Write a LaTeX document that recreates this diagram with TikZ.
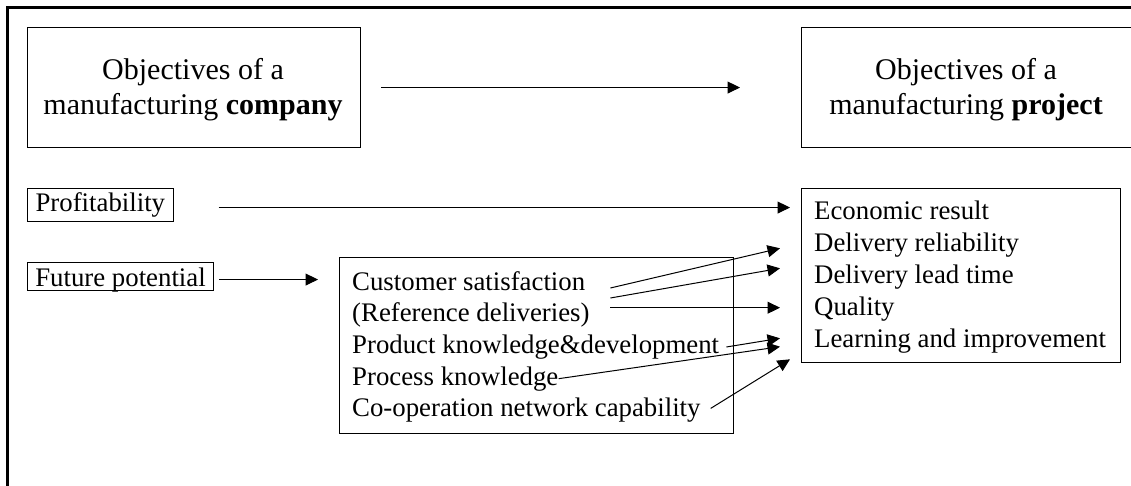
\documentclass[tikz,border=0pt]{standalone}
\usepackage{fontspec}
\setmainfont{Liberation Serif}
\usetikzlibrary{arrows.meta,calc}
\begin{document}
\begin{tikzpicture}[x=1pt,y=-1pt,
  outerframe/.style={line width=3pt},
  headbox/.style={draw, line width=1.1pt, anchor=north west, inner sep=0pt, minimum height=120pt},
  headtext/.style={anchor=base, inner sep=0pt, font=\fontsize{30}{35}\selectfont},
  listbox/.style={draw, line width=1.1pt, anchor=north west, inner sep=0pt},
  itemtext/.style={anchor=base west, inner sep=0pt, font=\fontsize{26.8}{32}\selectfont},
  labelbox/.style={draw, line width=1.1pt, anchor=north west, inner ysep=0pt, font=\fontsize{26.8}{32}\selectfont},
  arr/.style={-{Triangle[length=12.5pt,width=12pt]}, line width=1pt}]
\useasboundingbox (0,0) rectangle (1131,486);
\clip (0,0) rectangle (1131,486);
\draw[outerframe] (7,490) -- (7,8) -- (1135,8);

% headings
\node[headbox, minimum width=333pt] (cbox) at (27,27) {};
\node[headbox, minimum width=333pt] (pbox) at (801,27) {};
\node[headtext] (c1) at (193,80) {Objectives of a};
\node[headtext] (c2) at (193,115) {manufacturing \textbf{company}};
\node[headtext] (p1) at (966,80) {Objectives of a};
\node[headtext] (p2) at (966,115) {manufacturing \textbf{project}};
\draw[arr] ($(cbox.east)+(20,0)$) -- ($(pbox.west)+(-61,0)$);

% left labels
\node[labelbox, inner xsep=8pt, text height=23pt, text depth=10pt] (prof) at (27,188) {Profitability};
\node[labelbox, inner xsep=7.75pt, text height=24pt, text depth=4pt] (fut) at (27,262) {Future potential};

% middle box
\node[listbox, minimum width=394pt, minimum height=176pt] (mid) at (339,257) {};
\node[itemtext] (m1) at (352,290) {Customer satisfaction};
\node[itemtext] (m2) at (352,321.7) {(Reference deliveries)};
\node[itemtext] (m3) at (352,353.4) {Product knowledge\&development};
\node[itemtext] (m4) at (352,385.1) {Process knowledge};
\node[itemtext] (m5) at (352,416.8) {Co-operation network capability};

% result box
\node[listbox, minimum width=319pt, minimum height=174pt] (res) at (801,188) {};
\node[itemtext] (r1) at (814,219) {Economic result};
\node[itemtext] (r2) at (814,251.2) {Delivery reliability};
\node[itemtext] (r3) at (814,283.4) {Delivery lead time};
\node[itemtext] (r4) at (814,315.6) {Quality};
\node[itemtext] (r5) at (814,347.8) {Learning and improvement};

% connectors
\draw[arr] ($(prof.east)+(45,2.5)$) -- ($(res.west |- prof.east)+(-11,2.5)$);
\draw[arr] ($(fut.east)+(5,3)$) -- ($(mid.west |- fut.east)+(-21,3)$);

\coordinate (s1) at ($(m1.base east)+(25,-2)$);
\coordinate (s2) at ($(m1.base east)+(25,8)$);
\coordinate (s3) at ($(m1.base east)+(25,17.7)$);
\coordinate (t1) at ($(res.north west)+(-21,60.3)$);
\coordinate (t2) at ($(res.north west)+(-21,80.3)$);
\coordinate (t3) at ($(res.north west)+(-21,119.7)$);
\coordinate (t4) at ($(res.north west)+(-21,150.3)$);
\coordinate (t5) at ($(res.north west)+(-21,158.7)$);
\coordinate (t6) at ($(res.north west)+(-11,171.3)$);

\draw[arr] (s1) -- (t1);
\draw[arr] (s2) -- (t2);
\draw[arr] (s3) -- (t3);
\draw[arr] ($(m3.east)+(7,0)$) -- (t4);
\draw[arr] (m4.east) -- (t5);
\draw[arr] ($(m5.east)+(10,-2)$) -- (t6);
\end{tikzpicture}
\end{document}
